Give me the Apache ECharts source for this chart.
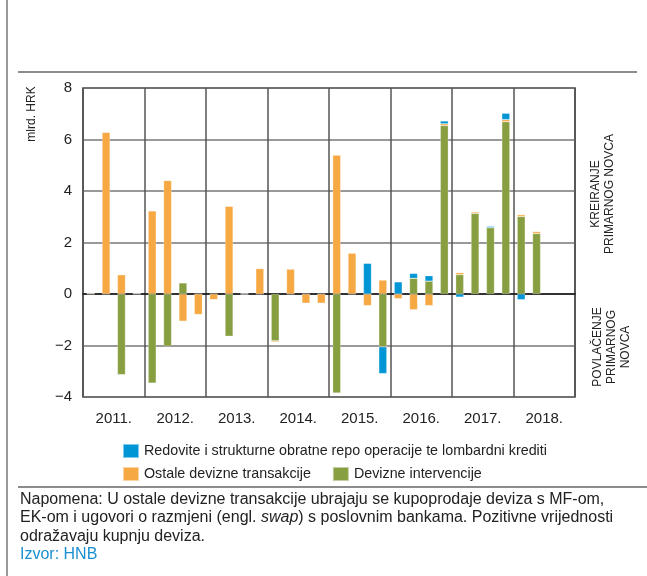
<!DOCTYPE html>
<html>
<head>
<meta charset="utf-8">
<script src="https://cdn.jsdelivr.net/npm/echarts@6/dist/echarts.min.js"></script>
<style>
  html, body { margin: 0; padding: 0; background: #fff; }
  #chart { width: 647px; height: 576px; }
</style>
</head>
<body>
<div id="chart"></div>
<script>
const FONT = '"Liberation Sans", Arial, sans-serif'

const years = ['2011.', '2012.', '2013.', '2014.', '2015.', '2016.', '2017.', '2018.']
const quarters = years.flatMap((y) => ['Q1', 'Q2', 'Q3', 'Q4'].map((q) => q + ' ' + y))

// mlrd. HRK, kvartalno
const intervencije = [
  0, 0, -3.13, 0,
  -3.46, -2.03, 0.43, 0,
  0, -1.64, 0, 0,
  -1.82, 0, 0, 0,
  -3.84, 0, 0, -2.05,
  0, 0.61, 0.50, 6.54,
  0.75, 3.13, 2.58, 6.69,
  3.01, 2.35, null, null,
]
const ostale = [
  0.03, 6.28, 0.75, 0.03,
  3.23, 4.41, -1.06, -0.80,
  -0.22, 3.41, 0, 0.99,
  -0.05, 0.97, -0.36, -0.36,
  5.40, 1.59, -0.45, 0.54,
  -0.18, -0.61, -0.45, 0.07,
  0.08, 0.06, 0, 0.08,
  0.07, 0.08, null, null,
]
const repo = [
  0, 0, 0, 0,
  0, 0, 0, 0,
  0, 0, 0.02, 0,
  0, 0, 0, 0,
  0, 0, 1.19, -1.04,
  0.47, 0.19, 0.21, 0.11,
  -0.12, 0, 0.05, 0.25,
  -0.22, 0, null, null,
]

const NAMES = {
  repo: 'Redovite i strukturne obratne repo operacije te lombardni krediti',
  ostale: 'Ostale devizne transakcije',
  interv: 'Devizne intervencije',
}
const COLORS = { repo: '#0096d6', ostale: '#f6a843', interv: '#879f40' }

function barSeries(name, data, color) {
  return {
    name, type: 'bar', stack: 'total', data,
    xAxisIndex: 0, barWidth: 8,
    itemStyle: { color, borderColor: 'rgba(255,255,255,0.5)', borderWidth: 0.5 },
  }
}

const legendText = { fontSize: 14.3, color: '#222', fontFamily: FONT }

const chart = echarts.init(document.getElementById('chart'))
chart.setOption({
  animation: false,
  textStyle: { fontFamily: FONT },
  grid: {
    left: 83, right: 72, top: 88, bottom: 179,
    show: true, borderColor: '#333', borderWidth: 1.5, backgroundColor: 'transparent',
  },
  legend: [
    {
      data: [NAMES.repo], left: 117, top: 438,
      itemWidth: 16, itemHeight: 14, itemGap: 28, icon: 'rect',
      textStyle: legendText,
    },
    {
      data: [NAMES.ostale, NAMES.interv], left: 117, top: 461,
      itemWidth: 16, itemHeight: 14, itemGap: 21, icon: 'rect',
      textStyle: legendText,
    },
  ],
  xAxis: [
    {
      type: 'category', data: quarters, position: 'bottom',
      axisLine: { show: true, onZero: true, lineStyle: { color: '#111', width: 1.5 } },
      axisTick: { show: false }, axisLabel: { show: false }, splitLine: { show: false },
    },
    {
      type: 'category', data: years, position: 'bottom', boundaryGap: true,
      axisLine: { show: false }, axisTick: { show: false },
      axisLabel: { fontSize: 15, color: '#222', margin: 14, fontFamily: FONT },
      splitLine: { show: true, lineStyle: { color: '#555', width: 1.5 } },
    },
  ],
  yAxis: {
    type: 'value', min: -4, max: 8, interval: 2,
    axisLine: { show: false }, axisTick: { show: false },
    axisLabel: {
      fontSize: 15, color: '#222', margin: 11, fontFamily: FONT,
      formatter: (v) => String(v).replace('-', '\u2212'),
    },
    splitLine: { lineStyle: { color: '#777', width: 1.5 } },
  },
  series: [
    barSeries(NAMES.interv, intervencije, COLORS.interv),
    barSeries(NAMES.ostale, ostale, COLORS.ostale),
    barSeries(NAMES.repo, repo, COLORS.repo),
  ],
  graphic: [
    { type: 'line', shape: { x1: 7, y1: 0, x2: 7, y2: 576 }, style: { stroke: '#777', lineWidth: 1.5 } },
    { type: 'line', shape: { x1: 18, y1: 72, x2: 637, y2: 72 }, style: { stroke: '#666', lineWidth: 1.5 } },
    { type: 'line', shape: { x1: 18, y1: 487, x2: 647, y2: 487 }, style: { stroke: '#666', lineWidth: 1.5 } },
    {
      type: 'text', x: 32, y: 114, rotation: Math.PI / 2,
      style: { text: 'mlrd. HRK', fill: '#222', font: '12px ' + FONT, align: 'center', verticalAlign: 'middle' },
    },
    {
      type: 'text', x: 603, y: 194, rotation: Math.PI / 2,
      style: {
        text: 'KREIRANJE\nPRIMARNOG NOVCA', font: '12px ' + FONT, fill: '#222',
        align: 'center', verticalAlign: 'middle', lineHeight: 14,
      },
    },
    {
      type: 'text', x: 612, y: 347, rotation: Math.PI / 2,
      style: {
        text: 'POVLAČENJE\nPRIMARNOG\nNOVCA', font: '12px ' + FONT, fill: '#222',
        align: 'center', verticalAlign: 'middle', lineHeight: 14,
      },
    },
    {
      type: 'text', x: 20, y: 490,
      style: {
        text: 'Napomena: U ostale devizne transakcije ubrajaju se kupoprodaje deviza s MF-om,\n' +
          'EK-om i ugovori o razmjeni (engl. {i|swap}) s poslovnim bankama. Pozitivne vrijednosti\n' +
          'odražavaju kupnju deviza.\n{src|Izvor: HNB}',
        font: '16px ' + FONT, fill: '#222', lineHeight: 18.5,
        rich: {
          i: { fontStyle: 'italic', fontSize: 16, fontFamily: FONT, fill: '#222' },
          src: { fontSize: 16, fontFamily: FONT, fill: '#1a8fd0' },
        },
      },
    },
  ],
})
</script>
</body>
</html>
